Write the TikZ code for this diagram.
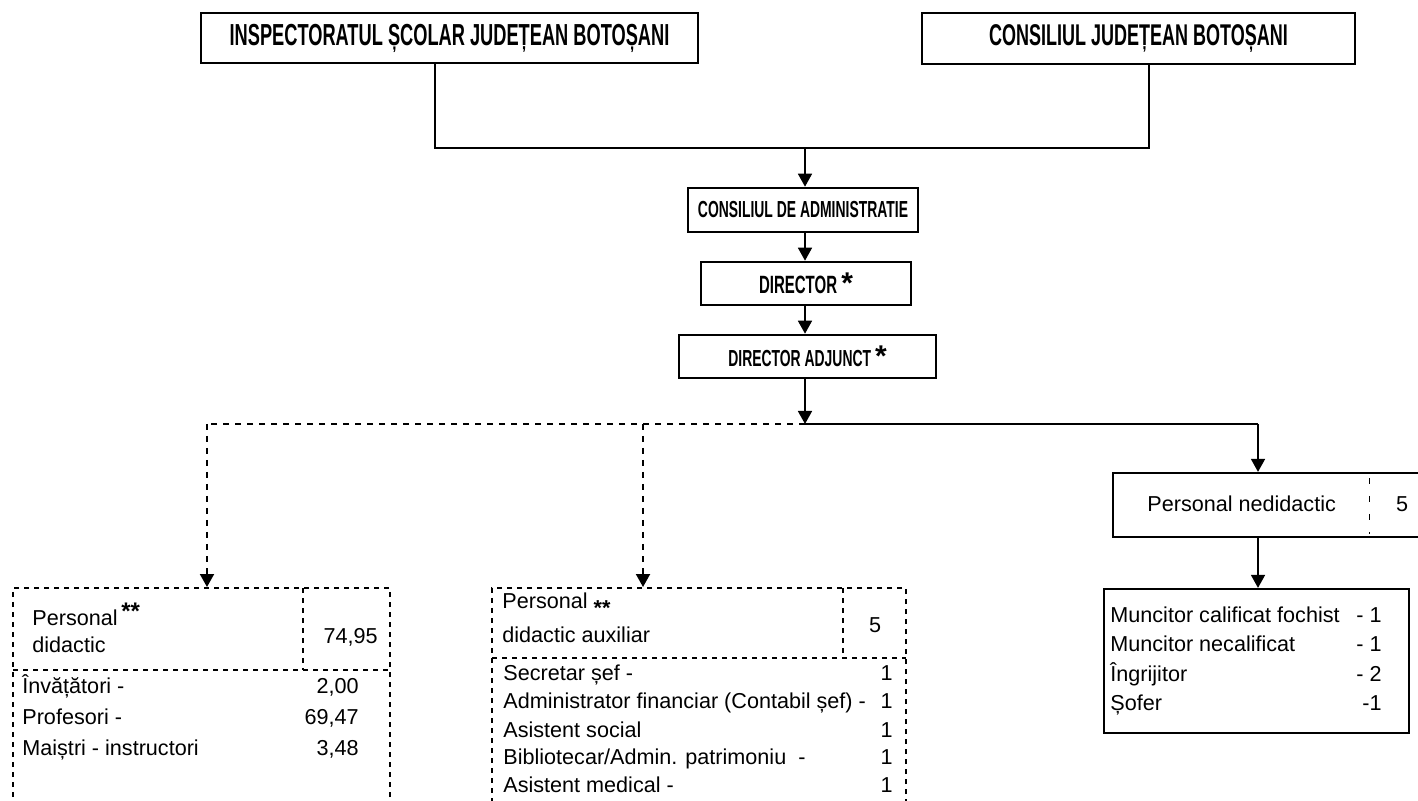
\documentclass[tikz,border=0pt]{standalone}
\usepackage{fontspec}
\setmainfont{Liberation Sans}
\newfontfamily\headfont[FakeStretch=0.6]{Liberation Sans}
\usetikzlibrary{arrows.meta,fit}
\tikzset{
  hbox/.style={draw,line width=1.3pt,inner sep=0pt},
  hsize/.style={font=\headfont\bfseries\fontsize{#1}{#1}\selectfont},
  sbox/.style={draw,line width=1.1pt,inner sep=0pt},
  dbox/.style={draw,line width=1pt,dash pattern=on 2.5pt off 2.5pt,inner sep=0pt},
  dline/.style={line width=1pt,dash pattern=on 2.5pt off 2.5pt},
  link/.style={line width=0.8pt},
  dlink/.style={line width=1pt,dash pattern=on 3pt off 3pt},
  arr/.style={-{Triangle[width=7pt,length=6.5pt]}},
  txt/.style={inner sep=0pt,anchor=base west,font=\fontsize{10.8}{13}\selectfont},
  num/.style={inner sep=0pt,anchor=base east,font=\fontsize{10.8}{13}\selectfont},
}
\newcommand{\bigast}{{\normalfont\bfseries\fontsize{15}{15}\selectfont *}}
\begin{document}
\begin{tikzpicture}[x=0.5pt,y=-0.5pt]
\useasboundingbox (0,0) rectangle (1418,801);
\clip (0,0) rectangle (1418,801);

% upper boxes
\node[hbox,hsize=15.2,minimum width=248.5pt,minimum height=25pt] (isj) at (449.5,38) {INSPECTORATUL ȘCOLAR JUDEȚEAN BOTOȘANI};
\node[hbox,hsize=15,minimum width=216.5pt,minimum height=25.5pt] (cjb) at (1138.5,38.5) {CONSILIUL JUDEȚEAN BOTOȘANI};
\node[hbox,hsize=11.6,minimum width=115pt,minimum height=22pt] (ca) at (803,210) {CONSILIUL DE ADMINISTRATIE};
\node[hbox,hsize=12.5,minimum width=105pt,minimum height=21.5pt] (dir) at (806,283.5) {DIRECTOR\,\bigast};
\node[hbox,hsize=11.6,minimum width=128.5pt,minimum height=21.5pt] (da) at (807.5,356.5) {DIRECTOR ADJUNCT\,\bigast};

% lower boxes
\node[dbox,fit={(13,588) (390,830)}] (pd) {};
\draw[dline] (303,588) -- (303,670);
\draw[dline] (13,670) -- (390,670);
\node[dbox,fit={(492,588) (906,830)}] (pa) {};
\draw[dline] (843,588) -- (843,658);
\draw[dline] (492,658) -- (906,658);
\node[sbox,fit={(1113,473) (1432,537)}] (pn) {};
\draw[line width=0.5pt,dash pattern=on 3pt off 6pt] (1369,478) -- (1369,534);
\node[sbox,fit={(1104,589) (1409,733)}] (mc) {};

% connectors
\coordinate (tl) at (435,148);
\coordinate (tr) at (1149,148);
\coordinate (tm) at (805,148);
\coordinate (jm) at (805,424);
\coordinate (jl) at (207,424);
\coordinate (jc) at (643,424);
\coordinate (jr) at (1258,424);
\draw[link] (isj.south -| tl) -- (tl) -- (tr) -- (cjb.south -| tr);
\draw[link,arr] (tm) -- (ca.north -| tm);
\draw[link,arr] (ca.south -| tm) -- (dir.north -| tm);
\draw[link,arr] (dir.south -| tm) -- (da.north -| tm);
\draw[link,arr] (da.south -| jm) -- (jm);
\draw[dlink] (jm) -- (jl);
\draw[dlink,arr] (jl) -- (pd.north -| jl);
\draw[dlink,arr] (jc) -- (pa.north -| jc);
\draw[link] (jm) -- (jr);
\draw[link,arr] (jr) -- (pn.north -| jr);
\draw[link,arr] (pn.south -| jr) -- (mc.north -| jr);

% personal didactic
\node[txt] (pd1) at (32,625) {Personal\,\raisebox{3pt}{\bfseries\fontsize{12}{12}\selectfont **}};
\node[txt] (pd2) at (32,652) {didactic};
\node[num] (pdn) at (378,643) {74,95};
\node[txt] (pd3) at (22,693) {Învățători -};
\node[num] (pd3n) at (359,693) {2,00};
\node[txt] (pd4) at (22,724) {Profesori -};
\node[num] (pd4n) at (359,724) {69,47};
\node[txt] (pd5) at (22,755) {Maiștri - instructori};
\node[num] (pd5n) at (359,755) {3,48};

% personal didactic auxiliar
\node[txt] (pa1) at (502,608) {Personal \raisebox{-3.5pt}{\bfseries **}};
\node[txt] (pa2) at (502,642) {didactic auxiliar};
\node[txt,anchor=base] (pan) at (875,632) {5};
\node[txt] (pa3) at (503,680) {Secretar șef -};
\node[num] (pa3n) at (893,680) {1};
\node[txt] (pa4) at (503,708) {Administrator financiar (Contabil șef) -};
\node[num] (pa4n) at (893,708) {1};
\node[txt] (pa5) at (503,737) {Asistent social};
\node[num] (pa5n) at (893,737) {1};
\node[txt] (pa6) at (503,764) {Bibliotecar/Admin. patrimoniu\ \ -};
\node[num] (pa6n) at (893,764) {1};
\node[txt] (pa7) at (503,792) {Asistent medical -};
\node[num] (pa7n) at (893,792) {1};

% personal nedidactic
\node[txt] (pn1) at (1147,512) {Personal nedidactic};
\node[txt,anchor=base] (pnn) at (1402,512) {5};
\node[txt] (mc1) at (1110,622) {Muncitor calificat fochist};
\node[num] (mc1n) at (1382,622) {- 1};
\node[txt] (mc2) at (1110,651) {Muncitor necalificat};
\node[num] (mc2n) at (1382,651) {- 1};
\node[txt] (mc3) at (1110,681) {Îngrijitor};
\node[num] (mc3n) at (1382,681) {- 2};
\node[txt] (mc4) at (1110,710) {Șofer};
\node[num] (mc4n) at (1382,710) {-1};
\end{tikzpicture}
\end{document}
